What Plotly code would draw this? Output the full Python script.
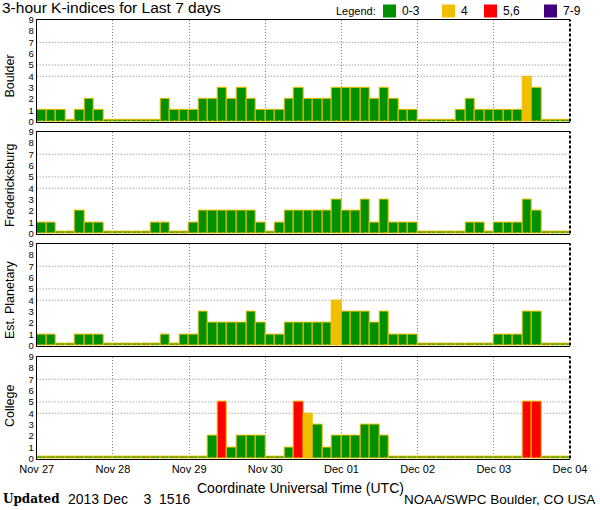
import plotly.graph_objects as go
import pandas as pd

# ---------------- data ----------------
stations = ["Boulder", "Fredericksburg", "Est. Planetary", "College"]

boulder = [1, 1, 1, 0, 1, 2, 1,
           0, 0, 0, 0, 0, 0,
           2, 1, 1, 1, 2, 2, 3, 2, 3, 2, 1, 1, 1, 2, 3,
           2, 2, 2, 3, 3, 3, 3, 2, 3, 2, 1, 1,
           0, 0, 0, 0,
           1, 2, 1, 1, 1, 1, 1, 4, 3,
           0, 0, 0]
fredericksburg = [1, 1, 0, 0, 2, 1, 1,
                  0, 0, 0, 0, 0,
                  1, 1, 0, 0, 1, 2, 2, 2, 2, 2, 2, 1, 0, 1, 2, 2,
                  2, 2, 2, 3, 2, 2, 3, 1, 3, 1, 1, 1,
                  0, 0, 0, 0, 0,
                  1, 1, 0, 1, 1, 1, 3, 2,
                  0, 0, 0]
planetary = [1, 1, 0, 0, 1, 1, 1,
             0, 0, 0, 0, 0, 0,
             1, 0, 1, 1, 3, 2, 2, 2, 2, 3, 2, 1, 1, 2, 2,
             2, 2, 2, 4, 3, 3, 3, 2, 3, 1, 1, 1,
             0, 0, 0, 0, 0, 0, 0, 0,
             1, 1, 1, 3, 3,
             0, 0, 0]
college = [0] * 18 + [2, 5, 1, 2, 2, 2, 0, 0, 1, 5,
                      4, 3, 1, 2, 2, 2, 3, 3, 2] + [0] * 14 + [5, 5, 0, 0, 0]

series = [boulder, fredericksburg, planetary, college]

start_day = "2013-11-27"
end_day = "2013-12-04"
times = pd.date_range("2013-11-27 01:30", periods=56, freq="3h")

legend_labels = ["0-3", "4", "5,6", "7-9"]
legend_colors = ["#009000", "#F0C000", "#FF0000", "#400080"]
edge_color = "#F0C000"

title_text = "3-hour K-indices for Last 7 days"
xaxis_title = "Coordinate Universal Time (UTC)"
updated_text = "2013\u00a0Dec\u00a0\u00a0\u00a0\u00a03\u00a0\u00a01516"
credit_text = "NOAA/SWPC Boulder, CO USA"

# ---------------- layout constants ----------------
W, H = 600, 510
FONT = "Liberation Sans"
x_dom = [36.7 / W, 570 / W]
panel_px = [(19.8, 121.5), (131.6, 233.6), (243.6, 345.6), (356.6, 458.6)]
label_y_px = [76, 185.5, 299.5, 406.5]
ZERO_H = 0.15


def kcolor(v):
    if v <= 3:
        return legend_colors[0]
    if v == 4:
        return legend_colors[1]
    if v <= 6:
        return legend_colors[2]
    return legend_colors[3]


def py(px):
    return 1 - px / H


fig = go.Figure()
layout = dict(
    template="none",
    width=W, height=H, margin=dict(l=0, r=0, t=0, b=0, pad=0),
    paper_bgcolor="white", plot_bgcolor="white",
    bargap=0, showlegend=False,
    font=dict(family=FONT, color="black"),
)
shapes = []
annotations = []

for i, (name, vals) in enumerate(zip(stations, series)):
    n = i + 1
    sfx = "" if n == 1 else str(n)
    top, bot = panel_px[i]
    ydom = [py(bot), py(top)]
    fig.add_trace(go.Bar(
        x=times, y=[max(v, ZERO_H) for v in vals],
        width=3 * 3600 * 1000,
        marker=dict(color=[kcolor(v) for v in vals],
                    line=dict(color=edge_color, width=1)),
        customdata=vals, hovertemplate="%{x}<br>K=%{customdata}<extra></extra>",
        xaxis="x" + sfx, yaxis="y" + sfx,
    ))
    layout["xaxis" + sfx] = dict(
        domain=x_dom, anchor="y" + sfx, type="date", automargin=False,
        range=[start_day, end_day], tick0=start_day, dtick=86400000,
        showgrid=True, gridcolor="#808080", gridwidth=1, griddash="1px,2px",
        showline=True, linecolor="black", linewidth=1, mirror=True,
        zeroline=False, ticks="",
        showticklabels=(n == 4), tickformat="%b %d",
        tickfont=dict(size=11, family=FONT),
        minor=dict(ticks="inside", ticklen=2, tickcolor=edge_color, tickwidth=1,
                   tick0="2013-11-27 01:30", dtick=3 * 3600 * 1000, showgrid=False),
    )
    layout["yaxis" + sfx] = dict(
        domain=ydom, anchor="x" + sfx, range=[0, 9], automargin=False,
        tickvals=list(range(10)), showgrid=False, zeroline=False,
        showline=True, linecolor="black", linewidth=1, ticks="",
        tickfont=dict(size=9.5, family=FONT),
    )
    for gy in (4, 5, 7):
        shapes.append(dict(type="line", xref="x" + sfx + " domain", x0=0, x1=1,
                           yref="y" + sfx, y0=gy, y1=gy, layer="below",
                           line=dict(color="#808080", width=1, dash="1px,2px")))
    shapes.append(dict(type="line", xref="x" + sfx + " domain", x0=1, x1=1,
                       yref="y" + sfx + " domain", y0=0, y1=1,
                       line=dict(color="black", width=2, dash="3px,2px")))
    annotations.append(dict(text=name, textangle=-90, xref="paper", yref="paper",
                            x=9.5 / W, y=py(label_y_px[i]),
                            xanchor="center", yanchor="middle", showarrow=False,
                            font=dict(size=12.5, family=FONT)))

# title
annotations.append(dict(text=title_text, xref="paper", yref="paper", x=1 / W, y=py(7.5),
                        xanchor="left", yanchor="middle", showarrow=False, borderpad=0,
                        font=dict(size=15.5, family=FONT)))
# legend
annotations.append(dict(text="Legend:", xref="paper", yref="paper", x=334 / W, y=py(11),
                        xanchor="left", yanchor="middle", showarrow=False,
                        font=dict(size=11, family=FONT)))
sw_x = [383, 442, 484, 544]
for lab, col, sx in zip(legend_labels, legend_colors, sw_x):
    shapes.append(dict(type="rect", xref="paper", yref="paper",
                       x0=sx / W, x1=(sx + 13) / W, y0=py(17.5), y1=py(4.5),
                       fillcolor=col, line=dict(width=0)))
    annotations.append(dict(text=lab, xref="paper", yref="paper", x=(sx + 17) / W, y=py(11),
                            xanchor="left", yanchor="middle", showarrow=False,
                            font=dict(size=12, family=FONT)))
# x-axis title
annotations.append(dict(text=xaxis_title, xref="paper", yref="paper", x=300 / W, y=py(488),
                        xanchor="center", yanchor="middle", showarrow=False,
                        font=dict(size=14, family=FONT)))
# footer
annotations.append(dict(text="<b>Updated</b>", xref="paper", yref="paper", x=1 / W, y=py(499),
                        xanchor="left", yanchor="middle", showarrow=False,
                        font=dict(size=12, family="DejaVu Serif")))
annotations.append(dict(text=updated_text, xref="paper", yref="paper", x=66 / W, y=py(499),
                        xanchor="left", yanchor="middle", showarrow=False,
                        font=dict(size=14, family=FONT)))
annotations.append(dict(text=credit_text, xref="paper", yref="paper", x=597 / W, y=py(499),
                        xanchor="right", yanchor="middle", showarrow=False,
                        font=dict(size=13.5, family=FONT)))

layout["shapes"] = shapes
layout["annotations"] = annotations
fig.update_layout(**layout)
fig.write_html("out.html")
